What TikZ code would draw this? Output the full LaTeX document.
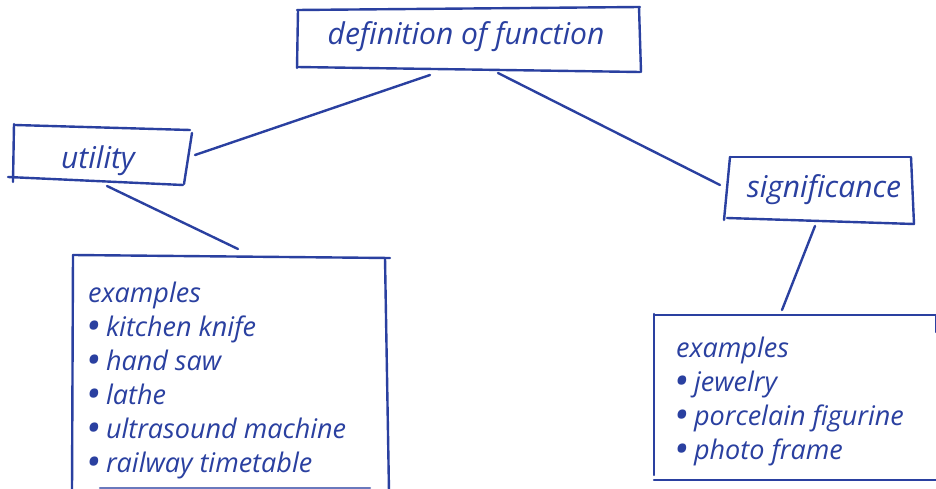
\documentclass[tikz,border=0pt]{standalone}
\usepackage{fontspec}
\setmainfont{Open Sans}
\definecolor{ink}{HTML}{2A40A0}
\newcommand{\bul}{{\fontsize{30}{30}\selectfont\textbf{•}}\ }
\begin{document}
\begin{tikzpicture}[x=1pt,y=-1pt,
  stroke/.style={draw=ink,line width=2.4pt,line cap=round},
  label/.style={text=ink,font=\itshape\fontsize{30}{34}\selectfont,inner sep=0pt,anchor=base},
  item/.style={text=ink,font=\itshape\fontsize{27}{34}\selectfont,inner sep=0pt,anchor=base west}]
\useasboundingbox (0,0) rectangle (936,489);
\fill[white] (0,0) rectangle (936,489);
% top box
\draw[stroke] (297,10) -- (640,7);
\draw[stroke] (298,10) -- (297,68);
\draw[stroke] (297,67) -- (640,72);
\draw[stroke] (639,7) -- (641,72);
\node[label] (def) at (466,45) {definition of function};
% utility box
\draw[stroke] (15,125) -- (190,130);
\draw[stroke] (14,124) -- (13,182);
\draw[stroke] (8,177) -- (183,185);
\draw[stroke] (192,133) -- (184,184);
\node[label] (util) at (98,168) {utility};
% significance box
\draw[stroke] (730,157) -- (910,157);
\draw[stroke] (730,157) -- (724,220);
\draw[stroke] (727,218) -- (914,224);
\draw[stroke] (911,157) -- (914,224);
\node[label] (sig) at (824,197) {significance};
% left examples box
\draw[stroke] (73,255) -- (390,258);
\draw[stroke] (73,255) -- (72,492);
\draw[stroke] (385,258) -- (389,492);
\draw[stroke,draw=ink!70] (100,488) -- (370,488);
\node[item] (l0) at (88,302) {examples};
\node[item] (l1) at (88,336) {\bul kitchen knife};
\node[item] (l2) at (88,370) {\bul hand saw};
\node[item] (l3) at (88,404) {\bul lathe};
\node[item] (l4) at (88,438) {\bul ultrasound machine};
\node[item] (l5) at (88,472) {\bul railway timetable};
% right examples box
\draw[stroke] (655,315) -- (940,315);
\draw[stroke] (654,314) -- (654,475);
\draw[stroke] (654,480) -- (940,480);
\draw[stroke] (936,315) -- (936,332);
\node[item] (r0) at (676,357) {examples};
\node[item] (r1) at (676,391) {\bul jewelry};
\node[item] (r2) at (676,425) {\bul porcelain figurine};
\node[item] (r3) at (676,459) {\bul photo frame};
% connectors
\coordinate (defL) at (430,75);
\coordinate (defR) at (498,73);
\coordinate (utilR) at (195,155);
\coordinate (utilB) at (107,186);
\coordinate (sigL) at (720,185);
\coordinate (sigB) at (815,226);
\coordinate (ex1T) at (238,249);
\coordinate (ex2T) at (782,310);
\draw[stroke] (defL) -- (utilR);
\draw[stroke] (defR) -- (sigL);
\draw[stroke] (utilB) -- (ex1T);
\draw[stroke] (sigB) -- (ex2T);
\end{tikzpicture}
\end{document}
